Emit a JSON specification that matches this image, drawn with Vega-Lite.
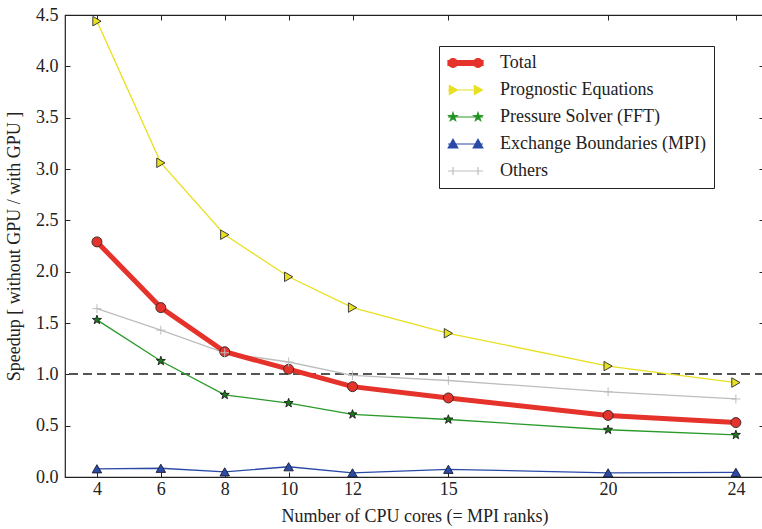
{
  "$schema": "https://vega.github.io/schema/vega-lite/v6.json",
  "width": 699,
  "height": 462,
  "autosize": "none",
  "padding": {"left": 65, "top": 15, "right": 0, "bottom": 52},
  "background": "white",
  "config": {
    "font": "Liberation Serif",
    "view": {"stroke": "#222", "strokeWidth": 1.2},
    "axis": {
      "grid": false,
      "domain": false,
      "tickSize": -5,
      "tickColor": "#222",
      "tickWidth": 1,
      "labelFont": "Liberation Serif",
      "labelFontSize": 18,
      "labelColor": "#222",
      "titleFont": "Liberation Serif",
      "titleFontSize": 18,
      "titleFontWeight": "normal",
      "titleColor": "#222"
    }
  },
  "data": {
    "values": [
      {"x": 4, "series": "Total", "v": 2.29},
      {"x": 6, "series": "Total", "v": 1.65},
      {"x": 8, "series": "Total", "v": 1.22},
      {"x": 10, "series": "Total", "v": 1.05},
      {"x": 12, "series": "Total", "v": 0.88},
      {"x": 15, "series": "Total", "v": 0.77},
      {"x": 20, "series": "Total", "v": 0.60},
      {"x": 24, "series": "Total", "v": 0.53},
      {"x": 4, "series": "Prognostic Equations", "v": 4.44},
      {"x": 6, "series": "Prognostic Equations", "v": 3.06},
      {"x": 8, "series": "Prognostic Equations", "v": 2.36},
      {"x": 10, "series": "Prognostic Equations", "v": 1.95},
      {"x": 12, "series": "Prognostic Equations", "v": 1.65},
      {"x": 15, "series": "Prognostic Equations", "v": 1.40},
      {"x": 20, "series": "Prognostic Equations", "v": 1.08},
      {"x": 24, "series": "Prognostic Equations", "v": 0.92},
      {"x": 4, "series": "Pressure Solver (FFT)", "v": 1.53},
      {"x": 6, "series": "Pressure Solver (FFT)", "v": 1.13},
      {"x": 8, "series": "Pressure Solver (FFT)", "v": 0.80},
      {"x": 10, "series": "Pressure Solver (FFT)", "v": 0.72},
      {"x": 12, "series": "Pressure Solver (FFT)", "v": 0.61},
      {"x": 15, "series": "Pressure Solver (FFT)", "v": 0.56},
      {"x": 20, "series": "Pressure Solver (FFT)", "v": 0.46},
      {"x": 24, "series": "Pressure Solver (FFT)", "v": 0.41},
      {"x": 4, "series": "Exchange Boundaries (MPI)", "v": 0.08},
      {"x": 6, "series": "Exchange Boundaries (MPI)", "v": 0.085},
      {"x": 8, "series": "Exchange Boundaries (MPI)", "v": 0.05},
      {"x": 10, "series": "Exchange Boundaries (MPI)", "v": 0.10},
      {"x": 12, "series": "Exchange Boundaries (MPI)", "v": 0.04},
      {"x": 15, "series": "Exchange Boundaries (MPI)", "v": 0.075},
      {"x": 20, "series": "Exchange Boundaries (MPI)", "v": 0.04},
      {"x": 24, "series": "Exchange Boundaries (MPI)", "v": 0.045},
      {"x": 4, "series": "Others", "v": 1.64},
      {"x": 6, "series": "Others", "v": 1.43},
      {"x": 8, "series": "Others", "v": 1.21},
      {"x": 10, "series": "Others", "v": 1.12},
      {"x": 12, "series": "Others", "v": 0.99},
      {"x": 15, "series": "Others", "v": 0.94},
      {"x": 20, "series": "Others", "v": 0.83},
      {"x": 24, "series": "Others", "v": 0.76}
    ]
  },
  "layer": [
    {
      "mark": {"type": "rule", "strokeDash": [9, 5], "color": "#555", "strokeWidth": 1.2},
      "encoding": {
        "y": {"datum": 1, "type": "quantitative", "axis": null, "scale": {"domain": [0, 4.5], "nice": false}}
      }
    },
    {
      "transform": [{"filter": "datum.series !== 'Total'"}],
      "mark": {"type": "line", "strokeWidth": 1.3},
      "encoding": {
        "x": {"field": "x", "type": "quantitative", "axis": null},
        "y": {"field": "v", "type": "quantitative", "axis": null},
        "color": {"field": "series", "type": "nominal"}
      }
    },
    {
      "transform": [{"filter": "datum.series === 'Total'"}],
      "mark": {"type": "line", "strokeWidth": 5},
      "encoding": {
        "x": {
          "field": "x", "type": "quantitative",
          "scale": {"domain": [3, 24.88], "nice": false, "zero": false},
          "axis": {"values": [4, 6, 8, 10, 12, 15, 20, 24], "title": "Number of CPU cores (= MPI ranks)", "labelPadding": 8, "titlePadding": 9}
        },
        "y": {
          "field": "v", "type": "quantitative",
          "scale": {"domain": [0, 4.5], "nice": false},
          "axis": {"values": [0, 0.5, 1, 1.5, 2, 2.5, 3, 3.5, 4, 4.5], "format": ".1f", "title": "Speedup [ without GPU / with GPU ]", "labelPadding": 12, "titlePadding": 12}
        },
        "color": {
          "field": "series", "type": "nominal",
          "scale": {
            "domain": ["Total", "Prognostic Equations", "Pressure Solver (FFT)", "Exchange Boundaries (MPI)", "Others"],
            "range": ["#e5322a", "#e8e020", "#2a9a2a", "#2a4aa8", "#bdbdbd"]
          },
          "legend": {
            "orient": "none",
            "legendX": 374,
            "legendY": 31,
            "title": null,
            "padding": 8,
            "strokeColor": "#222",
            "fillColor": "white",
            "cornerRadius": 0,
            "labelFont": "Liberation Serif",
            "labelFontSize": 18,
            "labelColor": "#222",
            "labelOffset": 35,
            "labelLimit": 400,
            "symbolSize": 256,
            "symbolStrokeWidth": 1.3,
            "rowPadding": 9,
            "encode": {
              "symbols": {
                "update": {
                  "shape": {"signal": "['M-1,-0.3L3.375,-0.3L3.375,0.3L-1,0.3ZM-0.9375,0A0.5625,0.5625 0 1,1 0.1875,0A0.5625,0.5625 0 1,1 -0.9375,0ZM2.1875,0A0.5625,0.5625 0 1,1 3.3125,0A0.5625,0.5625 0 1,1 2.1875,0Z','M-1,0L3.375,0M-0.825,-0.55L0.175,0L-0.825,0.55ZM2.3,-0.55L3.3,0L2.3,0.55Z','M-1,0L3.375,0M-0.375,-0.55L-0.246,-0.178L0.148,-0.17L-0.166,0.068L-0.052,0.445L-0.375,0.22L-0.698,0.445L-0.584,0.068L-0.898,-0.17L-0.504,-0.178ZM2.75,-0.55L2.879,-0.178L3.273,-0.17L2.959,0.068L3.073,0.445L2.75,0.22L2.427,0.445L2.541,0.068L2.227,-0.17L2.621,-0.178Z','M-1,0L3.375,0M-0.375,-0.6L0.225,0.5L-0.975,0.5ZM2.75,-0.6L3.35,0.5L2.15,0.5Z','M-1,0L3.375,0M-0.375,-0.5L-0.375,0.5M2.75,-0.5L2.75,0.5'][datum.index]"},
                  "fill": {"signal": "['#e5322a','#e8e020','#1e7a1e','#2a4aa8','transparent'][datum.index]"},
                  "stroke": {"signal": "['#c42a22','#b8b010','#1a6a1a','#1a2a6a','#bdbdbd'][datum.index]"},
                  "strokeWidth": {"value": 1.2},
                  "opacity": {"value": 1}
                }
              }
            }
          }
        }
      }
    },
    {
      "transform": [{"filter": "datum.series === 'Total'"}],
      "mark": {"type": "point", "shape": "circle", "filled": true, "fill": "#e5322a", "stroke": "#2a2a2a", "strokeWidth": 0.9, "opacity": 1, "size": 100},
      "encoding": {
        "x": {"field": "x", "type": "quantitative", "axis": {"orient": "top", "labels": false, "title": null, "values": [4, 6, 8, 10, 12, 15, 20, 24]}},
        "y": {"field": "v", "type": "quantitative", "axis": {"orient": "right", "labels": false, "title": null, "values": [0, 0.5, 1, 1.5, 2, 2.5, 3, 3.5, 4, 4.5]}}
      }
    },
    {
      "transform": [{"filter": "datum.series === 'Prognostic Equations'"}],
      "mark": {"type": "point", "shape": "triangle-right", "filled": true, "fill": "#e8e020", "stroke": "#2a2a2a", "strokeWidth": 0.9, "opacity": 1, "size": 90},
      "encoding": {
        "x": {"field": "x", "type": "quantitative", "axis": null},
        "y": {"field": "v", "type": "quantitative", "axis": null}
      }
    },
    {
      "transform": [{"filter": "datum.series === 'Pressure Solver (FFT)'"}],
      "mark": {"type": "point", "shape": "M0,-1L0.235,-0.324L0.951,-0.309L0.38,0.124L0.588,0.809L0,0.4L-0.588,0.809L-0.38,0.124L-0.951,-0.309L-0.235,-0.324Z", "filled": true, "fill": "#1e7a1e", "stroke": "#1a1a1a", "strokeWidth": 0.9, "opacity": 1, "size": 90},
      "encoding": {
        "x": {"field": "x", "type": "quantitative", "axis": null},
        "y": {"field": "v", "type": "quantitative", "axis": null}
      }
    },
    {
      "transform": [{"filter": "datum.series === 'Exchange Boundaries (MPI)'"}],
      "mark": {"type": "point", "shape": "triangle-up", "filled": true, "fill": "#2a4aa8", "stroke": "#1a1a2a", "strokeWidth": 0.9, "opacity": 1, "size": 90},
      "encoding": {
        "x": {"field": "x", "type": "quantitative", "axis": null},
        "y": {"field": "v", "type": "quantitative", "axis": null}
      }
    },
    {
      "transform": [{"filter": "datum.series === 'Others'"}],
      "mark": {"type": "point", "shape": "M-1,0L1,0M0,-1L0,1", "filled": false, "stroke": "#bdbdbd", "strokeWidth": 1, "opacity": 1, "size": 80},
      "encoding": {
        "x": {"field": "x", "type": "quantitative", "axis": null},
        "y": {"field": "v", "type": "quantitative", "axis": null}
      }
    }
  ],
  "resolve": {"axis": {"x": "independent", "y": "independent"}}
}
